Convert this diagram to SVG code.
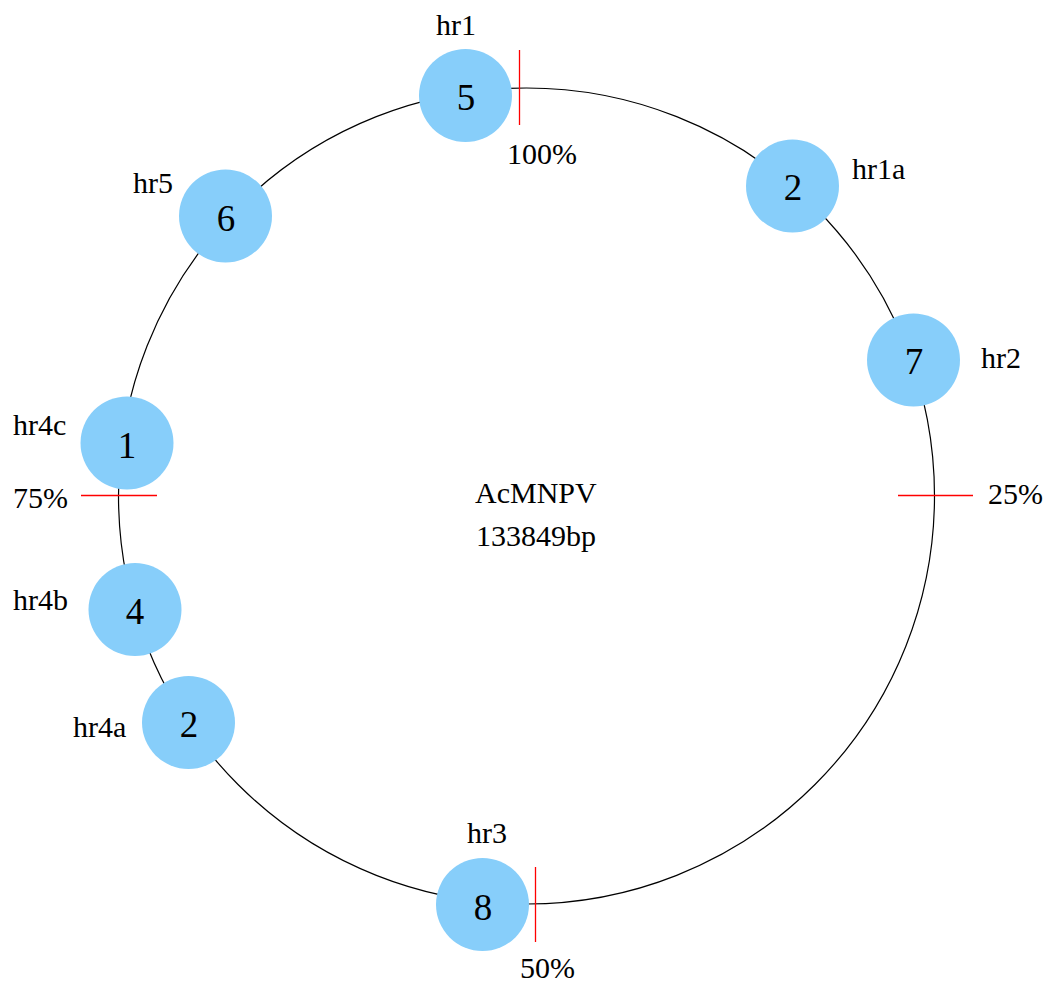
<svg xmlns="http://www.w3.org/2000/svg" width="1052" height="985" viewBox="0 0 1052 985">
<style>
text{font-family:"Liberation Serif","Times New Roman",serif;fill:#000}
.lbl{font-size:30px}
.num{font-size:37px;text-anchor:middle}
.node{fill:#87CEFA}
.tick{stroke:#ff0000;stroke-width:1.3}
</style>
<rect width="1052" height="985" fill="#fff"/>
<g id="connectors">
<circle cx="526.5" cy="496" r="408" fill="none" stroke="#000" stroke-width="1.2"/>
<line class="tick" x1="519.5" y1="50" x2="519.5" y2="125"/>
<line class="tick" x1="535.5" y1="867" x2="535.5" y2="942"/>
<line class="tick" x1="898" y1="495.5" x2="973" y2="495.5"/>
<line class="tick" x1="81" y1="495.5" x2="157" y2="495.5"/>
</g>
<g id="ticklabels" class="lbl">
<text x="507" y="164">100%</text>
<text x="988" y="504">25%</text>
<text x="520" y="978">50%</text>
<text x="13" y="508">75%</text>
</g>
<g id="center">
<text class="lbl" x="475" y="503">AcMNPV</text>
<text class="lbl" x="476" y="546">133849bp</text>
</g>
<g id="hr1"><circle class="node" cx="465.5" cy="95.5" r="46.5"/><text class="num" x="466" y="110">5</text><text class="lbl" x="436" y="35">hr1</text></g>
<g id="hr1a"><circle class="node" cx="792.5" cy="186" r="46.5"/><text class="num" x="793" y="200">2</text><text class="lbl" x="852" y="179">hr1a</text></g>
<g id="hr2"><circle class="node" cx="913.5" cy="360" r="46.5"/><text class="num" x="914" y="374">7</text><text class="lbl" x="981" y="368">hr2</text></g>
<g id="hr3"><circle class="node" cx="482.5" cy="904.5" r="46.5"/><text class="num" x="483" y="920">8</text><text class="lbl" x="467" y="843">hr3</text></g>
<g id="hr4a"><circle class="node" cx="188.5" cy="722.5" r="46.5"/><text class="num" x="189" y="737">2</text><text class="lbl" x="73" y="737">hr4a</text></g>
<g id="hr4b"><circle class="node" cx="135" cy="609.5" r="46.5"/><text class="num" x="135" y="624">4</text><text class="lbl" x="13" y="610">hr4b</text></g>
<g id="hr4c"><circle class="node" cx="127" cy="443" r="46.5"/><text class="num" x="127" y="458">1</text><text class="lbl" x="13" y="435">hr4c</text></g>
<g id="hr5"><circle class="node" cx="225.5" cy="216" r="46.5"/><text class="num" x="226" y="231">6</text><text class="lbl" x="133" y="193">hr5</text></g>
</svg>
